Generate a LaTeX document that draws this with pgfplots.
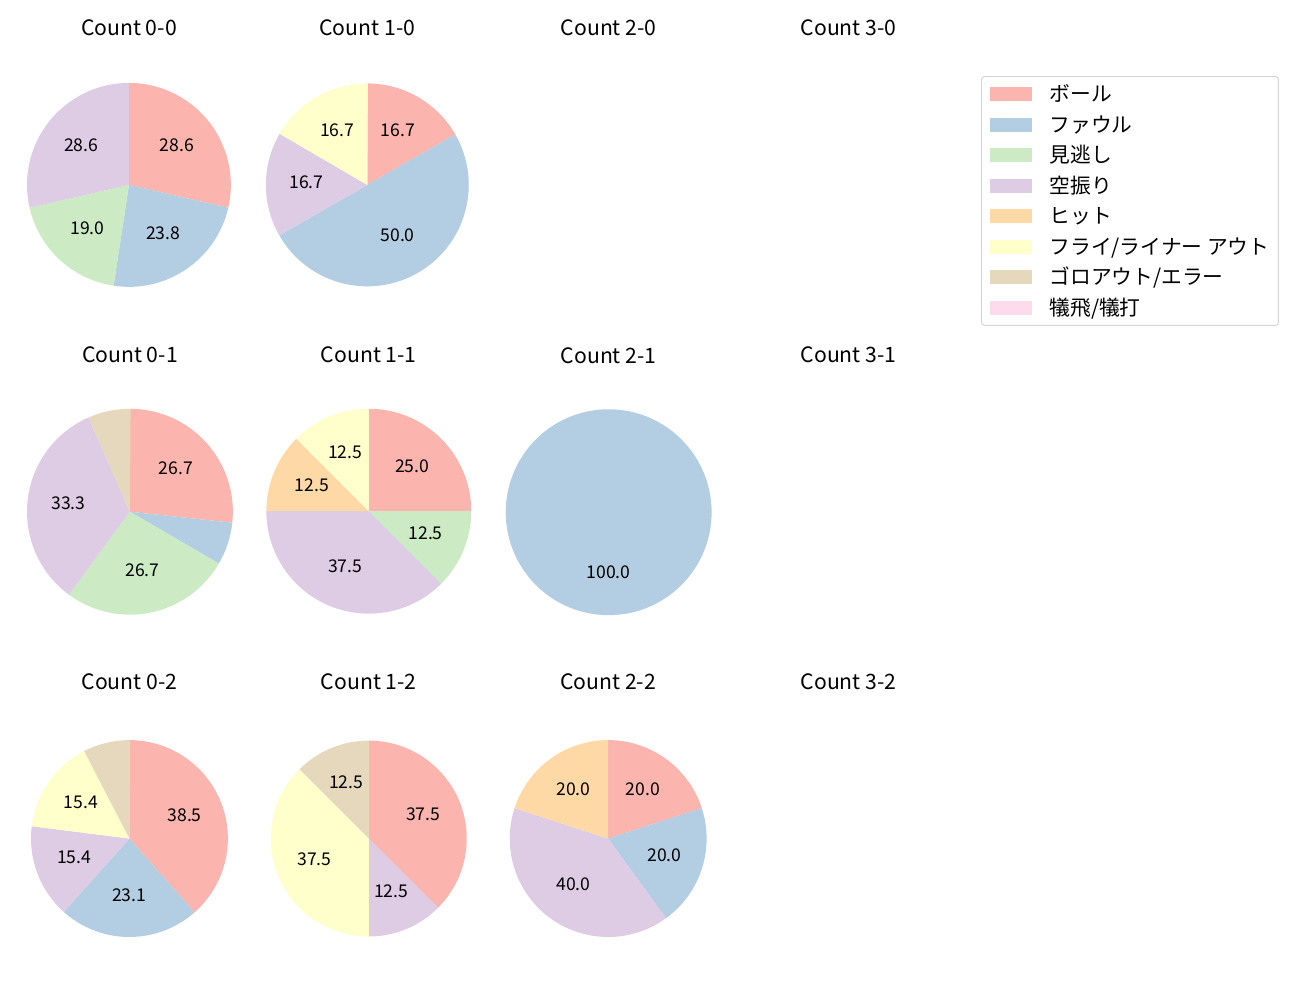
\documentclass[border=0pt]{standalone}
\usepackage{pgfplots}
\pgfplotsset{compat=1.18}
\usepackage{fontspec}
\setmainfont{Noto Sans CJK JP}

\definecolor{pBall}{HTML}{FBB4AE}
\definecolor{pFoul}{HTML}{B3CDE3}
\definecolor{pMis}{HTML}{CCEBC5}
\definecolor{pSw}{HTML}{DECBE4}
\definecolor{pHit}{HTML}{FED9A6}
\definecolor{pFly}{HTML}{FFFFCC}
\definecolor{pGoro}{HTML}{E5D8BD}
\definecolor{pSac}{HTML}{FDDAEC}

\newcommand\ttl{\fontsize{15.3}{18}\selectfont}
\newcommand\lab{\fontsize{12.7}{15}\selectfont}
\newcommand\legf{\fontsize{15}{18}\selectfont}

% pixel position (from top-left) -> coordinate in inches
\newcommand\PX[2]{\pgfmathsetmacro\X{#1*0.01}\pgfmathsetmacro\Y{-#2*0.01}}

% title above an axis
\newcommand\ttitle[3]{\PX{#1}{#2}\node[font=\ttl] at (\X in,\Y in) {#3};}

% one pie: #1 cx, #2 cy, #3 radius (px), #4 title, #5 value/colour list (percent)
\newcommand\pie[5]{%
  \pgfmathsetlengthmacro\w{2*#3*0.01in}%
  \pgfmathsetlengthmacro\rr{#3*0.01in}%
  \PX{#1}{#2}%
  \begin{axis}[hide axis, scale only axis, width=\w, height=\w,
      xmin=-1, xmax=1, ymin=-1, ymax=1,
      at={(\X in,\Y in)}, anchor=center, clip=false]
    \gdef\cum{0}%
    \foreach \v/\c in {#5}{%
      \pgfmathsetmacro\a{90-3.6*\cum}%
      \pgfmathsetmacro\b{90-3.6*(\cum+\v)}%
      \pgfmathsetmacro\m{(\a+\b)/2}%
      \pgfmathsetmacro\ca{cos(\a)}\pgfmathsetmacro\sa{sin(\a)}%
      \pgfmathsetmacro\lx{0.6*cos(\m)}\pgfmathsetmacro\ly{0.6*sin(\m)}%
      \edef\tmp{\noexpand\fill[\c] (axis cs:0,0) -- (axis cs:\ca,\sa)
        arc[start angle=\a, end angle=\b, radius=\rr] -- cycle;}%
      \tmp
      \ifdim\v pt<10pt\else
        \edef\tmp{\noexpand\node[font=\noexpand\lab, yshift=0.02in] at (axis cs:\lx,\ly) {\v};}%
        \tmp
      \fi
      \pgfmathsetmacro\cumn{\cum+\v}\xdef\cum{\cumn}%
    }%
  \end{axis}%
  \pgfmathsetmacro\ty{#2-157}%
  \ttitle{#1}{\ty}{#4}%
}

\begin{document}
\begin{tikzpicture}
\useasboundingbox (0,0) rectangle (13in,-10in);

% row 1
\pie{129}{185}{102}{Count 0-0}{28.6/pBall, 23.8/pFoul, 19.0/pMis, 28.6/pSw}
\pie{367.5}{185}{101.5}{Count 1-0}{16.7/pBall, 50.0/pFoul, 16.7/pSw, 16.7/pFly}
\ttitle{609}{28}{Count 2-0}
\ttitle{849}{28}{Count 3-0}

% row 2
\pie{130}{512}{103}{Count 0-1}{26.7/pBall, 6.7/pFoul, 26.7/pMis, 33.3/pSw, 6.7/pGoro}
\pie{369}{511.5}{102.5}{Count 1-1}{25.0/pBall, 12.5/pMis, 37.5/pSw, 12.5/pHit, 12.5/pFly}
\pie{609}{512.5}{103}{Count 2-1}{100.0/pFoul}
\ttitle{849}{355}{Count 3-1}

% row 3
\pie{129.5}{839}{98.5}{Count 0-2}{38.5/pBall, 23.1/pFoul, 15.4/pSw, 15.4/pFly, 7.7/pGoro}
\pie{369}{839}{98}{Count 1-2}{37.5/pBall, 12.5/pSw, 37.5/pFly, 12.5/pGoro}
\pie{608.5}{839}{98.5}{Count 2-2}{20.0/pBall, 20.0/pFoul, 40.0/pSw, 20.0/pHit}
\ttitle{849}{682}{Count 3-2}

% legend
\begin{axis}[hide axis, scale only axis, width=10pt, height=10pt,
    xmin=0, xmax=1, ymin=0, ymax=1,
    at={(9.81in,-0.76in)}, anchor=north west,
    legend style={at={(0,1)}, anchor=north west, draw=black!17, line width=0.7pt,
      rounded corners=0.03in, fill=white, font=\legf,
      inner xsep=0.09in, inner ysep=0.025in, row sep=0pt, column sep=0.17in,
      nodes={inner sep=0pt, text height=0.2275in, text depth=0.0775in, anchor=west}},
    legend cell align=left,
    legend image code/.code={\fill[#1, draw=none, sharp corners] (0in,-0.07in) rectangle (0.42in,0.07in);}]
  \addlegendimage{fill=pBall}\addlegendentry{ボール}
  \addlegendimage{fill=pFoul}\addlegendentry{ファウル}
  \addlegendimage{fill=pMis}\addlegendentry{見逃し}
  \addlegendimage{fill=pSw}\addlegendentry{空振り}
  \addlegendimage{fill=pHit}\addlegendentry{ヒット}
  \addlegendimage{fill=pFly}\addlegendentry{フライ/ライナー アウト}
  \addlegendimage{fill=pGoro}\addlegendentry{ゴロアウト/エラー}
  \addlegendimage{fill=pSac}\addlegendentry{犠飛/犠打}
\end{axis}
\end{tikzpicture}
\end{document}
